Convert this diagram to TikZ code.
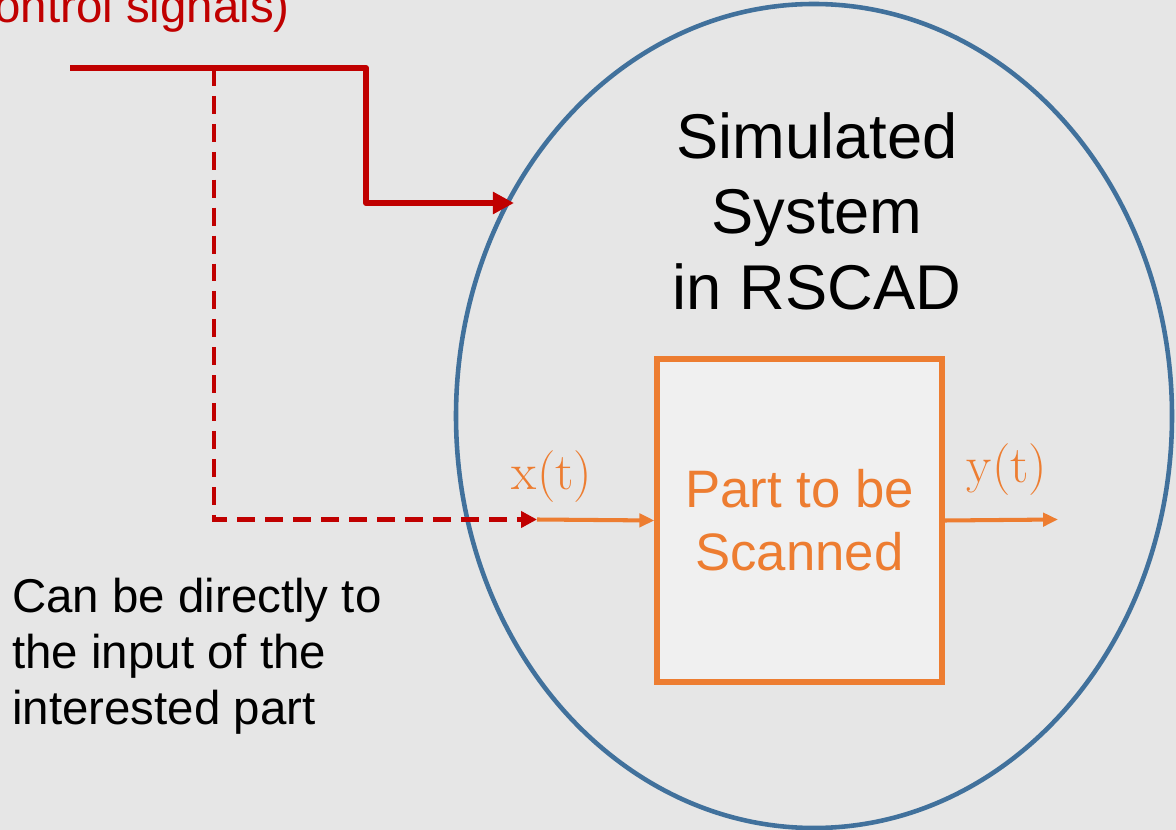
\documentclass[tikz,border=0pt]{standalone}
\usepackage{fontspec}
\setmainfont{Liberation Sans}
\newfontfamily\lmroman{Latin Modern Roman}
\usetikzlibrary{arrows.meta,shapes.geometric}
\definecolor{bg}{HTML}{E6E6E6}
\definecolor{sigred}{HTML}{C00000}
\definecolor{sysblue}{HTML}{41719C}
\definecolor{partorange}{HTML}{ED7D31}
\definecolor{boxfill}{HTML}{F0F0F0}
\tikzset{
  ctrl/.style={draw=sigred, line width=3.4pt, line join=round, -{Triangle[length=12pt,width=12pt]}},
  ctrldash/.style={draw=sigred, line width=2.3pt, dash pattern=on 10.2pt off 5.7pt, -{Triangle[length=9pt,width=9pt]}},
  sig/.style={draw=partorange, line width=2.3pt, -{Triangle[length=8.5pt,width=7.5pt]}},
  partbox/.style={draw=partorange, line width=3pt, fill=boxfill, text=partorange, align=center,
     font=\fontsize{30}{36}\selectfont, inner sep=0pt},
  lbl/.style={font=\lmroman\fontsize{29.5}{34}\selectfont, text=partorange, inner sep=0pt}
}
\begin{document}
\begin{tikzpicture}[x=0.02cm,y=-0.02cm]
\useasboundingbox (0,0) rectangle (1176,830);
\clip (0,0) rectangle (1176,830);
\fill[bg] (0,0) rectangle (1176,830);
% system ellipse
\node[ellipse, draw=sysblue, line width=2.6pt, minimum width=716*0.02cm, minimum height=824*0.02cm, inner sep=0pt] (sys) at (814,416) {};
\node[align=center, font=\fontsize{36}{43}\selectfont, inner sep=0pt] (systext) at (817,211) {Simulated\\System\\in RSCAD};
% part box
\node[partbox, minimum width=285*0.02cm, minimum height=323*0.02cm] (box) at (799.5,520.5) {Part to be\\Scanned};
% coordinates
\coordinate (cs) at (70,68);
\coordinate (corner) at (366,68);
\coordinate (tap) at (214,68);
\coordinate (cin) at (514,203);
\coordinate (xin) at (537,519.5);
\coordinate (yout) at (1058,519.5);
% control signals
\node[anchor=base east, text=sigred, font=\fontsize{27}{32}\selectfont, inner sep=0pt] (ctrltext) at (290,23) {(control signals)};
\draw[ctrldash] (tap) |- (xin);
\draw[ctrl] (cs) -- (corner) |- (cin);
% signals
\draw[sig] (xin) -- (box.west);
\draw[sig] (box.east) -- (yout);
\node[lbl] (xlbl) at (552,477) {x(t)};
\node[lbl] (ylbl) at (1007,470) {y(t)};
% note
\node[anchor=west, align=left, font=\fontsize{27}{31.8}\selectfont, inner sep=0pt] (note) at (12,656) {Can be directly to\\the input of the\\interested part};
\end{tikzpicture}
\end{document}
